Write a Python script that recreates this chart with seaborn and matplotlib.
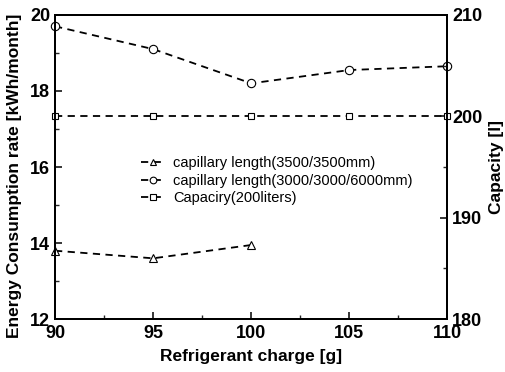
import matplotlib
matplotlib.use("Agg")
import matplotlib.pyplot as plt
import seaborn as sns
import pandas as pd
from matplotlib.ticker import MultipleLocator

sns.set_theme(style="ticks")
plt.rcParams['font.family'] = ['Liberation Sans', 'DejaVu Sans']
plt.rcParams['text.color'] = 'black'
plt.rcParams['axes.labelcolor'] = 'black'

charge_tri = [90, 95, 100]
energy_tri = [13.8, 13.6, 13.95]
charge_circ = [90, 95, 100, 105, 110]
energy_circ = [19.7, 19.1, 18.2, 18.55, 18.65]
charge_cap = [90, 95, 100, 105, 110]
capacity = [200, 200, 200, 200, 200]

labels = ["capillary length(3500/3500mm)",
          "capillary length(3000/3000/6000mm)",
          "Capaciry(200liters)"]

fig = plt.figure(figsize=(5.05, 3.72), dpi=100)
ax = fig.add_axes([0.109, 0.142, 0.777, 0.818])
ax2 = ax.twinx()

df_tri = pd.DataFrame({"x": charge_tri, "y": energy_tri})
df_circ = pd.DataFrame({"x": charge_circ, "y": energy_circ})
df_cap = pd.DataFrame({"x": charge_cap, "y": capacity})

common = dict(color="black", linewidth=1.3, markersize=6, markerfacecolor="white",
              markeredgecolor="black", markeredgewidth=0.8, dashes=(4, 3))
l1, = ax.plot(df_tri.x, df_tri.y, linestyle="--", marker="^", label=labels[0], **common)
l2, = ax.plot(df_circ.x, df_circ.y, linestyle="--", marker="o", label=labels[1], **common)
l3, = ax2.plot(df_cap.x, df_cap.y, linestyle="--", marker="s", label=labels[2],
               **{**common, "markersize": 5})
for l in (l1, l2, l3):
    l.set_clip_on(False)

ax.set_xlim(90, 110)
ax.set_ylim(12, 20)
ax2.set_ylim(180, 210)
ax.xaxis.set_major_locator(MultipleLocator(5))
ax.xaxis.set_minor_locator(MultipleLocator(2.5))
ax.yaxis.set_major_locator(MultipleLocator(2))
ax.yaxis.set_minor_locator(MultipleLocator(1))
ax2.yaxis.set_major_locator(MultipleLocator(10))
ax2.yaxis.set_minor_locator(MultipleLocator(5))

for a in (ax, ax2):
    for s in a.spines.values():
        s.set_linewidth(1.4)
        s.set_color("black")
    a.tick_params(which="major", direction="in", length=5, width=1.1, labelsize=13,
                  colors="black")
    a.tick_params(which="minor", direction="in", length=3, width=1.0)
ax.tick_params(axis="x", which="both", top=False, pad=4)
ax.tick_params(axis="y", which="both", right=False)
for t in ax.get_xticklabels() + ax.get_yticklabels() + ax2.get_yticklabels():
    t.set_fontweight("bold")

ax.set_xlabel("Refrigerant charge [g]", fontsize=12.5, fontweight="bold", labelpad=5)
ax.set_ylabel("Energy Consumption rate [kWh/month]", fontsize=12.5, fontweight="bold")
ax.yaxis.set_label_coords(-0.083, 0.47)
ax2.set_ylabel("Capacity [l]", fontsize=12.5, fontweight="bold", labelpad=5)

leg = ax.legend(handles=[l1, l2, l3], loc="upper left", bbox_to_anchor=(0.205, 0.555),
                frameon=False, fontsize=10.5, handlelength=1.6, handletextpad=0.6,
                labelspacing=0.25, borderaxespad=0, markerscale=0.8)

fig.savefig("out.png", dpi=100)
